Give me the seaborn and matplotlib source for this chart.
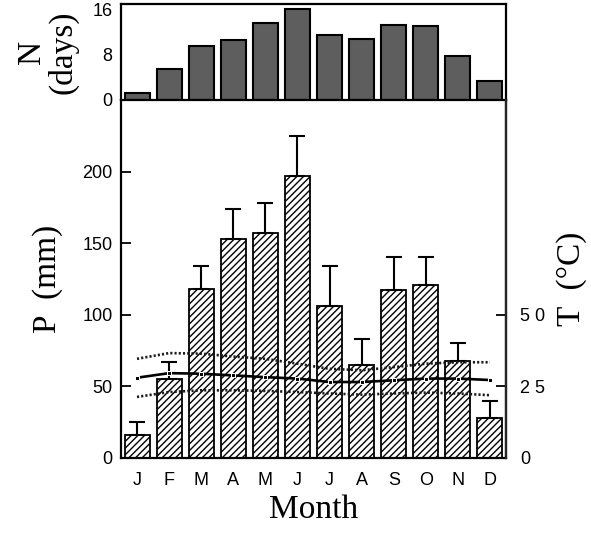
import numpy as np
import pandas as pd
import matplotlib
matplotlib.use("Agg")
import matplotlib.pyplot as plt
import seaborn as sns

months = ["J", "F", "M", "A", "M", "J", "J", "A", "S", "O", "N", "D"]
rain_days = [1.2, 5.5, 9.6, 10.6, 13.6, 16.1, 11.5, 10.8, 13.3, 13.0, 7.8, 3.3]
precip = [16, 55, 118, 153, 157, 197, 106, 65, 117, 121, 68, 28]
precip_err = [9, 12, 16, 21, 21, 28, 28, 18, 23, 19, 12, 12]
t_mean = [28.0, 29.6, 29.4, 28.8, 28.2, 27.7, 26.5, 26.5, 27.1, 27.7, 27.7, 27.2]
t_max = [34.6, 36.6, 36.4, 35.4, 34.6, 32.9, 31.1, 30.6, 31.7, 32.9, 33.4, 33.4]
t_min = [21.3, 23.0, 23.6, 23.6, 23.4, 23.0, 22.5, 22.1, 22.5, 22.8, 22.5, 21.9]

sns.set_style("white")
plt.rcParams["hatch.linewidth"] = 1.0
plt.rcParams["font.family"] = ["Liberation Sans", "DejaVu Sans"]
for k in ["text.color", "axes.labelcolor", "xtick.color", "ytick.color"]:
    plt.rcParams[k] = "black"

pos = np.arange(len(months))
df = pd.DataFrame({"pos": pos, "days": rain_days, "P": precip,
                   "Tm": t_mean, "Tx": t_max, "Tn": t_min})

fig = plt.figure(figsize=(5.91, 5.40), dpi=100)
ax = fig.add_axes([0.2047, 0.152, 0.6515, 0.663])
axt = fig.add_axes([0.2047, 0.815, 0.6515, 0.178])

serif = "Liberation Serif"
lw = 1.6

# main precipitation bars
sns.barplot(data=df, x="pos", y="P", ax=ax, color="white", width=0.78,
            edgecolor="black", linewidth=1.3, native_scale=True)
for p in ax.patches:
    p.set_facecolor("white")
    p.set_hatch("/////")
ax.errorbar(pos, precip, yerr=[np.zeros(len(pos)), precip_err], fmt="none",
            ecolor="black", elinewidth=1.5, capsize=6, capthick=1.5, zorder=3)
ax.set_xlim(-0.5, len(months) - 0.5)
ax.set_ylim(0, 250)
ax.set_yticks([0, 50, 100, 150, 200])
ax.set_xticks(pos)
ax.set_xticklabels(months)
ax.set_xticks(np.arange(-0.5, len(months), 1.0), minor=True)
ax.tick_params(axis="x", which="major", length=0, labelsize=13, pad=10)
ax.tick_params(axis="x", which="minor", length=5, width=1.3, direction="out")
ax.tick_params(axis="y", direction="in", length=7, width=1.3, labelsize=13, pad=6)
for s in ["left", "bottom", "right"]:
    ax.spines[s].set_linewidth(lw)
    ax.spines[s].set_color("black")
ax.spines["top"].set_visible(False)
ax.set_xlabel("Month", fontsize=24, family=serif, labelpad=4)
ax.set_ylabel("P  (mm)", fontsize=24, family=serif, labelpad=14)

# temperature lines
ax2 = ax.twinx()
sns.lineplot(data=df, x="pos", y="Tm", ax=ax2, color="black", linewidth=1.9,
             marker="s", markersize=3.5)
sns.lineplot(data=df, x="pos", y="Tx", ax=ax2, color="#1a1a1a", linewidth=1.9,
             linestyle=(0, (0.8, 0.8)))
sns.lineplot(data=df, x="pos", y="Tn", ax=ax2, color="#1a1a1a", linewidth=1.9,
             linestyle=(0, (0.8, 0.8)))
ax2.set_ylim(0, 125)
ax2.set_yticks([0, 25, 50])
ax2.set_yticklabels(["0", "2 5", "5 0"])
ax2.tick_params(axis="y", direction="in", length=7, width=1.3, labelsize=13, pad=10)
for s in ax2.spines.values():
    s.set_visible(False)
ax2.spines["right"].set_visible(True)
ax2.spines["right"].set_linewidth(lw)
ax2.set_ylabel("T  (°C)", fontsize=24, family=serif, labelpad=8)
ax2.set_xlim(-0.5, len(months) - 0.5)

# rain days panel
sns.barplot(data=df, x="pos", y="days", ax=axt, color="#5e5e5e", width=0.78,
            edgecolor="black", linewidth=1.5, native_scale=True, saturation=1)
axt.set_xlim(-0.5, len(months) - 0.5)
axt.set_ylim(0, 17)
axt.set_yticks([0, 8, 16])
axt.set_xticks([])
axt.set_xlabel("")
axt.set_ylabel("N\n(days)", fontsize=24, family=serif, labelpad=10, linespacing=1.0)
axt.tick_params(axis="y", direction="in", length=7, width=1.3, labelsize=13, pad=6)
for s in axt.spines.values():
    s.set_linewidth(lw)
    s.set_color("black")

fig.savefig("out.png", dpi=100, facecolor="white")
